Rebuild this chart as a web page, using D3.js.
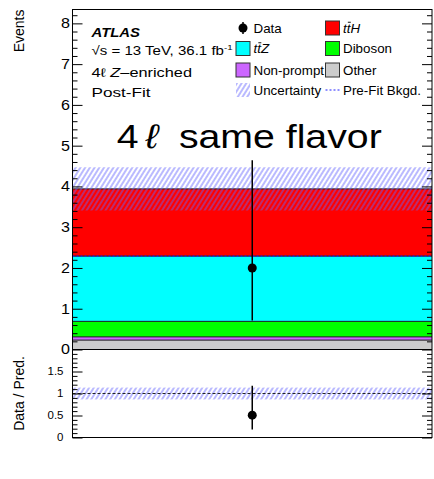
<!DOCTYPE html>
<html>
<head>
<meta charset="utf-8">
<script src="https://cdn.jsdelivr.net/npm/d3@7"></script>
<style>
  body { margin: 0; background: #fff; }
  text { font-family: "Liberation Sans", Arial, Helvetica, sans-serif; fill: #000; }
</style>
</head>
<body>
<svg id="chart" width="434" height="479"></svg>
<script>
// ---- data ----
const sampleNames  = ["Other", "Non-prompt", "Diboson", "ttZ", "ttH"];
const sampleYields = [0.23, 0.08, 0.38, 1.60, 1.65];
const sampleColors = ["#cccccc", "#cc66ff", "#00ff00", "#00ffff", "#ff0000"];
const totalUncertainty = [0.53];
const preFitBackground = [2.29];
const dataCounts  = [2];
const dataErrUp   = [2.64];
const dataErrDown = [1.29];
const mainTicks  = [0, 1, 2, 3, 4, 5, 6, 7, 8];
const ratioTicks = [0, 0.5, 1, 1.5];
const ratioTickLabels = ["0", "0.5", "1", "1.5"];

// ---- layout ----
const L = 72.5, R = 432, T = 9.5, MB = 349.5, RB = 437.5;
const SX = 1.15;   // horizontal stretch of axis labels
const SXL = 1.07;  // horizontal stretch of legend labels

const svg = d3.select("#chart");
const x  = d3.scaleBand().domain(["bin"]).range([L, R]);
const y  = d3.scaleLinear().domain([0, 8.34]).range([MB, T]);
const yr = d3.scaleLinear().domain([0, 2]).range([RB, MB]);
const xc = x("bin") + x.bandwidth() / 2;

const defs = svg.append("defs");
const pat = defs.append("pattern").attr("id", "hatch")
  .attr("patternUnits", "userSpaceOnUse").attr("width", 4).attr("height", 10)
  .attr("patternTransform", "rotate(32)");
pat.append("line").attr("x1", 1).attr("x2", 1).attr("y1", 0).attr("y2", 10)
  .attr("stroke", "#6464ff").attr("stroke-width", 0.9);

// ---- stacked yields ----
const row = { bin: "bin" };
sampleNames.forEach((k, i) => row[k] = sampleYields[i]);
const series = d3.stack().keys(sampleNames)([row]);
const total = d3.sum(sampleYields);
const unc = totalUncertainty[0];

svg.append("g").selectAll("rect").data(series).join("rect")
  .attr("x", x("bin")).attr("width", x.bandwidth())
  .attr("y", s => y(s[0][1])).attr("height", s => y(s[0][0]) - y(s[0][1]))
  .attr("fill", (s, i) => sampleColors[i]);
svg.append("g").selectAll("line").data(series).join("line")
  .attr("x1", L).attr("x2", R)
  .attr("y1", s => y(s[0][1])).attr("y2", s => y(s[0][1]))
  .attr("stroke", "#1a1a1a").attr("stroke-width", 1);

// uncertainty band
svg.append("rect").attr("x", L).attr("width", R - L)
  .attr("y", y(total + unc)).attr("height", y(total - unc) - y(total + unc))
  .attr("fill", "url(#hatch)");

// pre-fit background
svg.append("line").attr("x1", L).attr("x2", R)
  .attr("y1", y(preFitBackground[0])).attr("y2", y(preFitBackground[0]))
  .attr("stroke", "#2020ff").attr("stroke-width", 1.2).attr("stroke-dasharray", "2,2");

// data
dataCounts.forEach((d, i) => {
  svg.append("line").attr("x1", xc).attr("x2", xc)
    .attr("y1", y(d + dataErrUp[i])).attr("y2", y(d - dataErrDown[i]))
    .attr("stroke", "#000").attr("stroke-width", 1.5);
  svg.append("circle").attr("cx", xc).attr("cy", y(d)).attr("r", 4.5).attr("fill", "#000");
});

// ---- ratio panel ----
svg.append("rect").attr("x", L).attr("width", R - L)
  .attr("y", yr(1 + unc / total)).attr("height", yr(1 - unc / total) - yr(1 + unc / total))
  .attr("fill", "url(#hatch)");
svg.append("line").attr("x1", L).attr("x2", R).attr("y1", yr(1)).attr("y2", yr(1))
  .attr("stroke", "#222").attr("stroke-width", 1).attr("stroke-dasharray", "3,2");
dataCounts.forEach((d, i) => {
  svg.append("line").attr("x1", xc).attr("x2", xc)
    .attr("y1", yr((d + dataErrUp[i]) / total)).attr("y2", yr((d - dataErrDown[i]) / total))
    .attr("stroke", "#000").attr("stroke-width", 1.5);
  svg.append("circle").attr("cx", xc).attr("cy", yr(d / total)).attr("r", 4.5).attr("fill", "#000");
});

// ---- frame and axes ----
svg.append("rect").attr("x", L).attr("y", T).attr("width", R - L).attr("height", RB - T)
  .attr("fill", "none").attr("stroke", "#000").attr("stroke-width", 1);
svg.append("line").attr("x1", L).attr("x2", R).attr("y1", MB).attr("y2", MB)
  .attr("stroke", "#000").attr("stroke-width", 1);

function ticks(scale, majors, minors, labels, fontSize, pad) {
  const gl = svg.append("g").attr("transform", `translate(${L},0)`)
    .call(d3.axisLeft(scale).tickValues(majors).tickSize(-10).tickPadding(pad)
      .tickFormat((d, i) => labels[i]));
  gl.select(".domain").remove();
  gl.selectAll(".tick text").attr("font-size", fontSize).style("font-family", null).each(function () {
    const t = d3.select(this);
    const xx = +t.attr("x");
    t.attr("x", null).attr("transform", `translate(${xx},0) scale(${SX},1)`);
  });
  const gm = svg.append("g").attr("transform", `translate(${L},0)`)
    .call(d3.axisLeft(scale).tickValues(minors).tickSize(-5).tickFormat(""));
  gm.select(".domain").remove();
  const gr = svg.append("g").attr("transform", `translate(${R},0)`)
    .call(d3.axisRight(scale).tickValues(majors).tickSize(-10).tickFormat(""));
  gr.select(".domain").remove();
  const grm = svg.append("g").attr("transform", `translate(${R},0)`)
    .call(d3.axisRight(scale).tickValues(minors).tickSize(-5).tickFormat(""));
  grm.select(".domain").remove();
  svg.selectAll(".tick line").attr("stroke", "#000");
}
const mainMinors = d3.range(0, 8.35, 0.2).filter(v => Math.abs(v - Math.round(v)) > 1e-6);
ticks(y, mainTicks, mainMinors, mainTicks.map(String), 14, 2.5);
const ratioMinors = d3.range(0, 2.0, 0.1).filter(v => Math.abs(v * 2 - Math.round(v * 2)) > 1e-6);
ticks(yr, ratioTicks, ratioMinors, ratioTickLabels, 10, 9);

// axis titles
svg.append("text").attr("transform", `translate(23.5,${T}) rotate(-90)`)
  .attr("text-anchor", "end").attr("font-size", 14).text("Events");
svg.append("text").attr("transform", `translate(24,${(MB + RB) / 2}) rotate(-90)`)
  .attr("text-anchor", "middle").attr("font-size", 14).text("Data / Pred.");

// ---- text helpers ----
function label(px, py, size, sx) {
  return svg.append("g").attr("transform", `translate(${px},${py}) scale(${sx || 1},1)`)
    .append("text").attr("font-size", size);
}
function fit(textSel, width) {
  return textSel.attr("textLength", width).attr("lengthAdjust", "spacingAndGlyphs");
}
function overbar(textSel, charIndex) {
  const node = textSel.node();
  const p = node.getStartPositionOfChar(charIndex);
  const w = node.getSubStringLength(charIndex, 1);
  const size = +textSel.attr("font-size");
  d3.select(node.parentNode).append("line")
    .attr("x1", p.x + w * 0.3).attr("x2", p.x + w * 1.1)
    .attr("y1", -size * 0.82).attr("y2", -size * 0.82)
    .attr("stroke", "#000").attr("stroke-width", 0.9);
}

// experiment annotations
fit(label(91.5, 36.5, 13).attr("font-weight", "bold").attr("font-style", "italic").text("ATLAS"), 48.5);
const lumi = label(91.5, 54.5, 12.5);
lumi.append("tspan").text("\u221As = 13 TeV, 36.1 fb");
lumi.append("tspan").attr("font-size", 8).attr("dy", -5).text("-1");
fit(lumi, 141);
const reg = label(91.5, 76.5, 12.5);
reg.append("tspan").text("4\u2113 ");
reg.append("tspan").attr("font-style", "italic").text("Z");
reg.append("tspan").text("\u2013enriched");
fit(reg, 100.5);
fit(label(91.5, 96.5, 12.5).text("Post-Fit"), 59);

// region title
const title = label(116.7, 147.5, 34);
title.append("tspan").text("4");
title.append("tspan").attr("dx", 6).attr("font-style", "italic").text("\u2113");
title.append("tspan").attr("dx", 18).text("same flavor");
fit(title, 265);

// ---- legend ----
const legendRows = [28, 48.5, 70, 90];
const col1 = 236, col2 = 325.5, box = 14;
// Data
svg.append("line").attr("x1", col1 + 7).attr("x2", col1 + 7).attr("y1", legendRows[0] - 6).attr("y2", legendRows[0] + 6)
  .attr("stroke", "#000").attr("stroke-width", 1.5);
svg.append("circle").attr("cx", col1 + 7).attr("cy", legendRows[0]).attr("r", 4.5).attr("fill", "#000");
label(col1 + 17.5, legendRows[0] + 4.5, 12.5, SXL).text("Data");
// filled boxes
const legendBoxes = [
  { col: col2, row: 0, idx: 4 }, { col: col1, row: 1, idx: 3 },
  { col: col2, row: 1, idx: 2 }, { col: col1, row: 2, idx: 1 }, { col: col2, row: 2, idx: 0 }
];
legendBoxes.forEach(b => {
  svg.append("rect").attr("x", b.col).attr("y", legendRows[b.row] - box / 2)
    .attr("width", box).attr("height", box)
    .attr("fill", sampleColors[b.idx]).attr("stroke", "#333").attr("stroke-width", 1);
  const name = sampleNames[b.idx];
  const t = label(b.col + 17.5, legendRows[b.row] + 4.5, 12.5, SXL);
  if (name === "ttH" || name === "ttZ") {
    t.attr("font-style", "italic").text(name);
    overbar(t, 1);
  } else {
    t.text(name);
  }
});
// uncertainty
svg.append("rect").attr("x", col1).attr("y", legendRows[3] - box / 2).attr("width", box).attr("height", box)
  .attr("fill", "url(#hatch)");
label(col1 + 17.5, legendRows[3] + 4.5, 12.5, SXL).text("Uncertainty");
// pre-fit
svg.append("line").attr("x1", col2).attr("x2", col2 + box).attr("y1", legendRows[3]).attr("y2", legendRows[3])
  .attr("stroke", "#2020ff").attr("stroke-width", 1.2).attr("stroke-dasharray", "2,2");
label(col2 + 17.5, legendRows[3] + 4.5, 12.5, SXL).text("Pre-Fit Bkgd.");
</script>
</body>
</html>
